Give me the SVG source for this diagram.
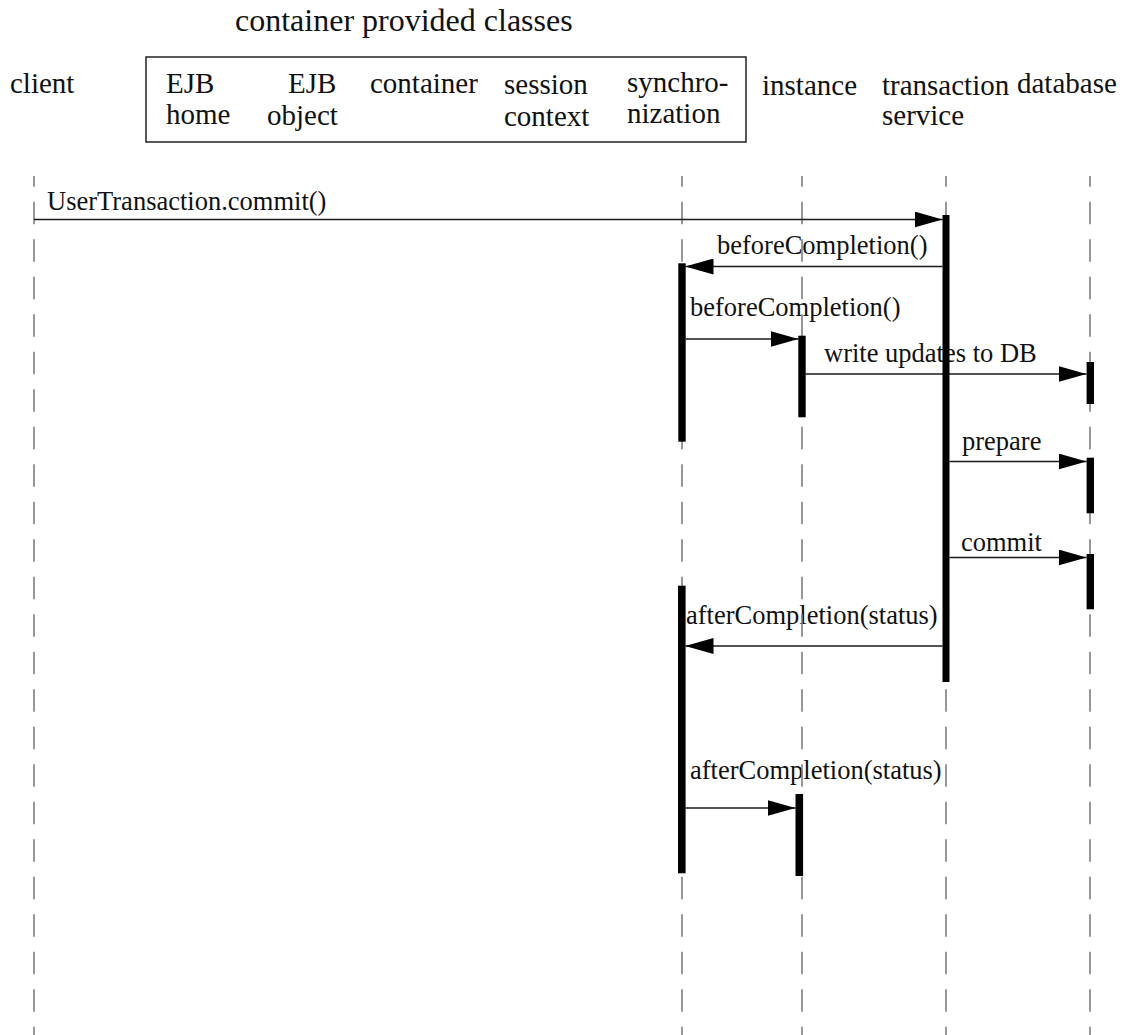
<svg xmlns="http://www.w3.org/2000/svg" width="1139" height="1035" viewBox="0 0 1139 1035">
  <style>
    text { font-family: "Liberation Serif", "Times New Roman", serif; fill: #111; }
    .title { font-size: 32px; }
    .head { font-size: 29px; }
    .msg { font-size: 26.5px; }
    .life { stroke: #7f7f7f; stroke-width: 1.6; stroke-dasharray: 22.5 15; stroke-dashoffset: 11.8; fill: none; }
    .call { stroke: #1a1a1a; stroke-width: 1.4; fill: none; }
    .act { fill: #000; }
  </style>
  <defs>
    <marker id="head" viewBox="0 0 28 16" refX="28" refY="8" markerWidth="28" markerHeight="16" markerUnits="userSpaceOnUse" orient="auto">
      <path d="M0,0 L28,8 L0,16 Z" fill="#000"/>
    </marker>
  </defs>

  <rect width="1139" height="1035" fill="#fff"/>

  <!-- participants -->
  <text class="title" x="235" y="31">container provided classes</text>
  <g id="client"><text class="head" x="10" y="93">client</text></g>
  <g id="container-classes">
    <rect x="146" y="57" width="600" height="85" fill="none" stroke="#222" stroke-width="1.5"/>
  </g>
  <g id="ejb-home"><text class="head" x="166" y="93">EJB</text><text class="head" x="166" y="124">home</text></g>
  <g id="ejb-object"><text class="head" x="288" y="93">EJB</text><text class="head" x="267" y="125">object</text></g>
  <g id="container"><text class="head" x="370" y="93">container</text></g>
  <g id="session-context"><text class="head" x="504" y="94">session</text><text class="head" x="504" y="126">context</text></g>
  <g id="synchronization"><text class="head" x="627" y="92">synchro-</text><text class="head" x="627" y="123">nization</text></g>
  <g id="instance"><text class="head" x="762" y="95">instance</text></g>
  <g id="transaction-service"><text class="head" x="882" y="95">transaction</text><text class="head" x="882" y="125">service</text></g>
  <g id="database"><text class="head" x="1017" y="93">database</text></g>

  <!-- message labels -->
  <g id="labels">
    <text class="msg" x="47" y="210">UserTransaction.commit()</text>
    <text class="msg" x="717" y="254">beforeCompletion()</text>
    <text class="msg" x="690" y="316">beforeCompletion()</text>
    <text class="msg" x="824" y="362">write updates to DB</text>
    <text class="msg" x="962" y="450">prepare</text>
    <text class="msg" x="961" y="551">commit</text>
    <text class="msg" x="686" y="624">afterCompletion(status)</text>
    <text class="msg" x="690" y="779">afterCompletion(status)</text>
  </g>

  <!-- lifelines -->
  <g id="lifelines">
    <line class="life" x1="34" y1="176" x2="34" y2="1035"/>
    <line class="life" x1="682" y1="176" x2="682" y2="1035"/>
    <line class="life" x1="802" y1="176" x2="802" y2="1035"/>
    <line class="life" x1="946" y1="176" x2="946" y2="1035"/>
    <line class="life" x1="1090" y1="176" x2="1090" y2="1035"/>
  </g>

  <!-- calls -->
  <g id="connectors">
    <line class="call" x1="34" y1="219.5" x2="942.5" y2="219.5" marker-end="url(#head)"/>
    <line class="call" x1="942.5" y1="266.5" x2="685.5" y2="266.5" marker-end="url(#head)"/>
    <line class="call" x1="685.5" y1="339" x2="798.5" y2="339" marker-end="url(#head)"/>
    <line class="call" x1="805.5" y1="374" x2="1086.5" y2="374" marker-end="url(#head)"/>
    <line class="call" x1="949.5" y1="461.5" x2="1086.5" y2="461.5" marker-end="url(#head)"/>
    <line class="call" x1="949.5" y1="557.5" x2="1086.5" y2="557.5" marker-end="url(#head)"/>
    <line class="call" x1="942.5" y1="646" x2="685.5" y2="646" marker-end="url(#head)"/>
    <line class="call" x1="685.5" y1="808" x2="795.5" y2="808" marker-end="url(#head)"/>
  </g>

  <!-- activation bars -->
  <g id="activations">
    <rect class="act" x="942.5" y="215" width="7" height="467"/>
    <rect class="act" x="678.3" y="263.3" width="7.4" height="178.4"/>
    <rect class="act" x="798.3" y="335.7" width="7.4" height="81.6"/>
    <rect class="act" x="1086.6" y="362" width="7.4" height="42"/>
    <rect class="act" x="1086.6" y="457.7" width="7.4" height="55.6"/>
    <rect class="act" x="1086.6" y="554" width="7.4" height="55.3"/>
    <rect class="act" x="678" y="585.7" width="7.6" height="287.6"/>
    <rect class="act" x="795.5" y="794" width="7.6" height="82"/>
  </g>
</svg>
